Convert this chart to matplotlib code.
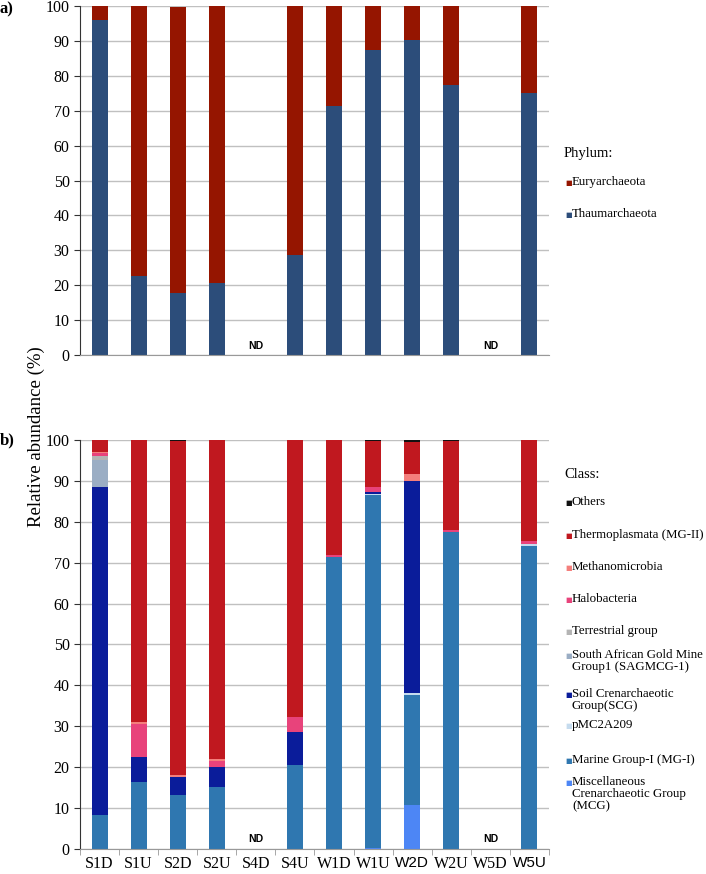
import numpy as np
import matplotlib
matplotlib.use("Agg")
import matplotlib.pyplot as plt

samples = ["S1D", "S1U", "S2D", "S2U", "S4D", "S4U", "W1D", "W1U", "W2D", "W2U", "W5D", "W5U"]
nd_samples = ["S4D", "W5D"]

# panel a - phylum (%)
thaum = [96.0, 22.6, 17.7, 20.5, 0, 28.8, 71.3, 87.5, 90.2, 77.5, 0, 75.0]
eury = [4.0, 77.4, 82.0, 79.5, 0, 71.2, 28.7, 12.5, 9.8, 22.5, 0, 25.0]

# panel b - class (%), bottom to top
mcg = [0, 0, 0, 0, 0, 0, 0, 0.3, 10.8, 0, 0, 0]
mg1 = [8.2, 16.5, 13.3, 15.1, 0, 20.5, 71.3, 86.2, 26.9, 77.4, 0, 74.1]
pmc = [0, 0, 0, 0, 0, 0, 0, 0.4, 0.5, 0, 0, 0.4]
scg = [80.2, 5.9, 4.2, 4.9, 0, 8.2, 0, 0.5, 51.7, 0, 0, 0]
sagmcg = [6.8, 0, 0, 0, 0, 0, 0, 0, 0, 0, 0, 0]
terrestrial = [0.8, 0, 0, 0, 0, 0, 0, 0, 0, 0, 0, 0]
halo = [0.7, 8.2, 0, 1.6, 0, 3.6, 0.6, 1.2, 0, 0.5, 0, 0.8]
methano = [0.3, 0.4, 0.7, 0.5, 0, 0, 0, 0, 1.9, 0, 0, 0]
thermo = [3.0, 69.0, 81.5, 77.9, 0, 67.7, 28.1, 11.2, 7.7, 21.9, 0, 24.7]
others = [0, 0, 0.3, 0, 0, 0, 0, 0.2, 0.5, 0.2, 0, 0]

class_names = ["Miscellaneous\nCrenarchaeotic Group\n(MCG)", "Marine Group-I (MG-I)", "pMC2A209",
               "Soil Crenarchaeotic\nGroup(SCG)", "South African Gold Mine\nGroup1 (SAGMCG-1)",
               "Terrestrial group", "Halobacteria", "Methanomicrobia", "Thermoplasmata (MG-II)", "Others"]
class_values = [mcg, mg1, pmc, scg, sagmcg, terrestrial, halo, methano, thermo, others]
class_colors = ["#4D86F5", "#2F77B0", "#C5DBEE", "#0A1C9A", "#9AADC4",
                "#B4B4B4", "#E8437B", "#F47F7C", "#C0181F", "#111111"]

serif = "Liberation Serif"
sans = "Liberation Sans"
plt.rcParams["font.family"] = [serif, "DejaVu Serif"]

fig = plt.figure(figsize=(7.06, 8.74), dpi=100)
ax_a = fig.add_axes([0.1133, 0.5938, 0.6643, 0.3993])
ax_b = fig.add_axes([0.1133, 0.0286, 0.6643, 0.468])

x = np.arange(len(samples))
w = 0.41


def style_axis(ax):
    ax.set_xlim(-0.5, len(samples) - 0.5)
    ax.set_ylim(0, 100)
    ax.set_yticks(range(0, 101, 10))
    ax.yaxis.grid(True, color="#C0C0C0", lw=1.0)
    ax.set_axisbelow(True)
    for s in ["top", "right"]:
        ax.spines[s].set_visible(False)
    ax.spines["left"].set_color("#333333")
    ax.spines["bottom"].set_color("#999999")
    ax.tick_params(axis="y", length=4, color="#333333", labelsize=11.5)
    for s in nd_samples:
        ax.text(samples.index(s), 2.5, "ND", ha="center", va="center",
                fontsize=7.5, fontweight="bold", fontfamily=sans)


# panel a
ax_a.bar(x, thaum, w, color="#2C4D7A", label="Thaumarchaeota")
ax_a.bar(x, eury, w, bottom=thaum, color="#951500", label="Euryarchaeota")
style_axis(ax_a)
ax_a.set_xticks([])

# panel b
bottom = np.zeros(len(samples))
for vals, col in zip(class_values, class_colors):
    ax_b.bar(x, vals, w, bottom=bottom, color=col)
    bottom += np.array(vals)
style_axis(ax_b)
ax_b.set_xticks(x)
ax_b.set_xticklabels(samples, fontsize=11.5)
for lab in ax_b.get_xticklabels():
    if lab.get_text() in ("W2D", "W5U"):
        lab.set_fontfamily(sans)
        lab.set_fontsize(11)
ax_b.tick_params(axis="x", length=0, pad=5)
ax_b.set_xticks(np.arange(-0.5, len(samples)), minor=True)
ax_b.tick_params(axis="x", which="minor", length=4, color="#999999")

fig.text(0.052, 0.5, "Relative abundance (%)", rotation=90, ha="center", va="center",
         fontsize=13.5)
fig.text(0.0, 1 - 1 / 874, "a)", fontsize=12, fontweight="bold", va="top")
fig.text(0.0, 1 - 432 / 874, "b)", fontsize=12, fontweight="bold", va="top")


def legend_entry(ypix, color, text):
    fig.text(565 / 706, 1 - ypix / 874, "■", color=color, fontsize=5, va="center",
             fontfamily="DejaVu Sans")
    fig.text(572 / 706, 1 - (ypix - 7) / 874, text, fontsize=9.3, va="top",
             linespacing=1.0)


fig.text(564 / 706, 1 - 154 / 874, "Phylum:", fontsize=10.5, va="center")
legend_entry(183, "#951500", "Euryarchaeota")
legend_entry(215, "#2C4D7A", "Thaumarchaeota")

fig.text(564 / 706, 1 - 474 / 874, "Class:", fontsize=10.5, va="center")
class_label_y = [783, 761, 726, 695, 656, 632, 600, 568, 536, 503]
for name, col, yp in zip(class_names, class_colors, class_label_y):
    legend_entry(yp, col, name)

fig.savefig("out.png", dpi=100)
